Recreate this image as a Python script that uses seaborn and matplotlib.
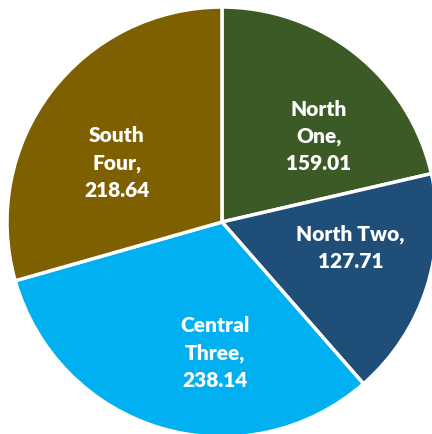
import matplotlib
matplotlib.use("Agg")
import matplotlib.pyplot as plt
import numpy as np
import seaborn as sns

categories = ["North One", "North Two", "Central Three", "South Four"]
values = [159.01, 127.71, 238.14, 218.64]
label_texts = ["North\nOne,\n159.01", "North Two,\n127.71", "Central\nThree,\n238.14", "South\nFour,\n218.64"]
colors = ["#3B5A25", "#1F4E79", "#00B0F0", "#7F6000"]

# label placement tweaks (angle nudge in degrees, radius fraction)
angle_nudge = [-10, 6.6, 13.5, 7.7]
label_radius = [0.60, 0.61, 0.61, 0.56]

sns.set_theme(style="white")
plt.rcParams['font.family'] = ['Lato', 'DejaVu Sans']

fig = plt.figure(figsize=(4.32, 4.34), dpi=100)
ax = fig.add_axes([0, 0, 1, 1])
wedges, _ = ax.pie(values, colors=colors, startangle=90,
                   counterclock=False, radius=1.0,
                   wedgeprops=dict(edgecolor="white", linewidth=2.5))
for w, txt, dang, r in zip(wedges, label_texts, angle_nudge, label_radius):
    mid = np.deg2rad((w.theta1 + w.theta2) / 2 + dang)
    ax.text(r * np.cos(mid), r * np.sin(mid), txt, color="white", fontsize=15,
            fontweight="heavy", ha="center", va="center", linespacing=1.5,
            multialignment="center")
ax.set_xlim(-1.0326, 0.977)
ax.set_ylim(-0.986, 1.0326)
ax.set_aspect("equal")
ax.axis("off")
fig.savefig("out.png", dpi=100, facecolor="white")
